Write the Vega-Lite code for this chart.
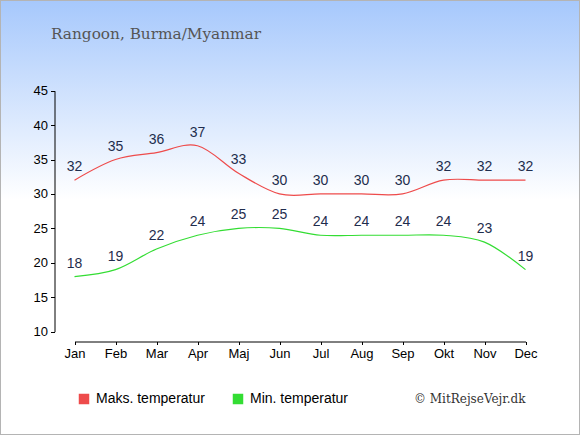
{
  "$schema": "https://vega.github.io/schema/vega-lite/v6.json",
  "width": 580,
  "height": 435,
  "autosize": "none",
  "padding": 0,
  "background": "white",
  "title": {
    "text": "Rangoon, Burma/Myanmar",
    "anchor": "start",
    "frame": "group",
    "font": "DejaVu Serif",
    "fontSize": 15.3,
    "fontWeight": "normal",
    "color": "#555555",
    "baseline": "alphabetic",
    "offset": 0,
    "dx": 51,
    "dy": 54.5
  },
  "data": {
    "values": [
      {"month": "Jan", "serie": "Maks. temperatur", "temp": 32},
      {"month": "Feb", "serie": "Maks. temperatur", "temp": 35},
      {"month": "Mar", "serie": "Maks. temperatur", "temp": 36},
      {"month": "Apr", "serie": "Maks. temperatur", "temp": 37},
      {"month": "Maj", "serie": "Maks. temperatur", "temp": 33},
      {"month": "Jun", "serie": "Maks. temperatur", "temp": 30},
      {"month": "Jul", "serie": "Maks. temperatur", "temp": 30},
      {"month": "Aug", "serie": "Maks. temperatur", "temp": 30},
      {"month": "Sep", "serie": "Maks. temperatur", "temp": 30},
      {"month": "Okt", "serie": "Maks. temperatur", "temp": 32},
      {"month": "Nov", "serie": "Maks. temperatur", "temp": 32},
      {"month": "Dec", "serie": "Maks. temperatur", "temp": 32},
      {"month": "Jan", "serie": "Min. temperatur", "temp": 18},
      {"month": "Feb", "serie": "Min. temperatur", "temp": 19},
      {"month": "Mar", "serie": "Min. temperatur", "temp": 22},
      {"month": "Apr", "serie": "Min. temperatur", "temp": 24},
      {"month": "Maj", "serie": "Min. temperatur", "temp": 25},
      {"month": "Jun", "serie": "Min. temperatur", "temp": 25},
      {"month": "Jul", "serie": "Min. temperatur", "temp": 24},
      {"month": "Aug", "serie": "Min. temperatur", "temp": 24},
      {"month": "Sep", "serie": "Min. temperatur", "temp": 24},
      {"month": "Okt", "serie": "Min. temperatur", "temp": 24},
      {"month": "Nov", "serie": "Min. temperatur", "temp": 23},
      {"month": "Dec", "serie": "Min. temperatur", "temp": 19}
    ]
  },
  "encoding": {
    "x": {
      "field": "month",
      "type": "ordinal",
      "sort": null,
      "scale": {"type": "point", "padding": 0, "range": [74.5, 525.5]},
      "axis": {
        "orient": "bottom",
        "title": null,
        "offset": -93.5,
        "domainColor": "#000000",
        "tickColor": "#000000",
        "tickSize": 3,
        "labelAngle": 0,
        "labelPadding": 3,
        "labelFont": "Liberation Sans",
        "labelFontSize": 13,
        "labelColor": "#000000",
        "grid": false
      }
    },
    "y": {
      "field": "temp",
      "type": "quantitative",
      "scale": {"domain": [10, 45], "range": [331.6, 90.7], "nice": false, "zero": false},
      "axis": {
        "title": null,
        "values": [10, 15, 20, 25, 30, 35, 40, 45],
        "offset": -54.5,
        "domainColor": "#000000",
        "tickColor": "#000000",
        "tickSize": 4,
        "labelPadding": 3,
        "labelFont": "Liberation Sans",
        "labelFontSize": 13,
        "labelColor": "#000000",
        "grid": false
      }
    }
  },
  "layer": [
    {
      "mark": {"type": "line", "interpolate": "cardinal", "strokeWidth": 1.2},
      "encoding": {
        "color": {
          "field": "serie",
          "type": "nominal",
          "scale": {
            "domain": ["Maks. temperatur", "Min. temperatur"],
            "range": ["#ee4b4b", "#33dd33"]
          },
          "legend": {
            "orient": "none",
            "legendX": 77,
            "legendY": 392,
            "direction": "horizontal",
            "title": "© MitRejseVejr.dk",
            "titleOrient": "right",
            "titleFont": "DejaVu Serif",
            "titleFontSize": 12,
            "titleFontWeight": "normal",
            "titleColor": "#333333",
            "titlePadding": 66,
            "symbolType": "square",
            "symbolSize": 110,
            "symbolStrokeWidth": 0,
            "symbolOpacity": 1,
            "labelFont": "Liberation Sans",
            "labelFontSize": 14,
            "labelColor": "#000000",
            "labelOffset": 5,
            "columnPadding": 26,
            "encode": {
              "symbols": {"update": {"fill": {"scale": "color", "field": "value"}}}
            }
          }
        }
      }
    },
    {
      "mark": {
        "type": "text",
        "font": "Liberation Sans",
        "fontSize": 14,
        "color": "#1f2d4d",
        "baseline": "alphabetic",
        "dy": -9
      },
      "encoding": {"text": {"field": "temp", "type": "quantitative"}}
    }
  ],
  "config": {
    "view": {
      "fill": {
        "gradient": "linear",
        "x1": 0, "y1": 0, "x2": 0, "y2": 1,
        "stops": [
          {"offset": 0, "color": "#a6c8fc"},
          {"offset": 0.46, "color": "#ffffff"},
          {"offset": 1, "color": "#ffffff"}
        ]
      },
      "stroke": "#b4b4b4",
      "strokeWidth": 2
    }
  }
}
